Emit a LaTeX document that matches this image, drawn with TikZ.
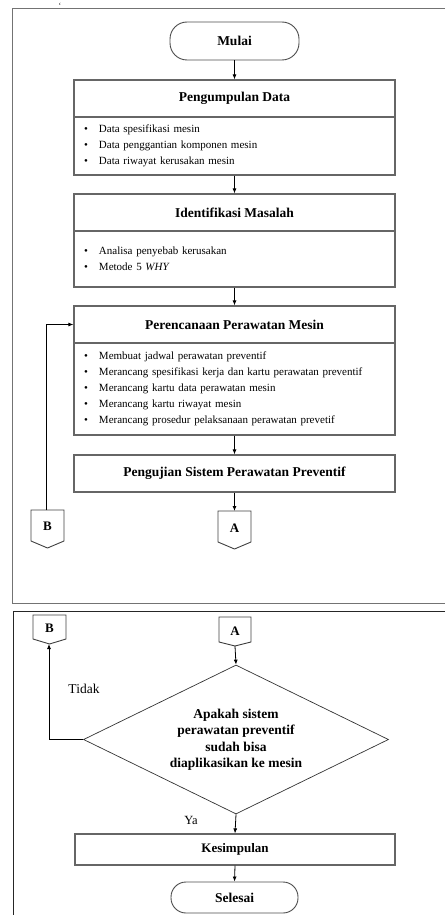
\documentclass[tikz,border=0pt]{standalone}
\usepackage{fontspec}
\setmainfont{Liberation Serif}
\usetikzlibrary{shapes.geometric,arrows.meta}
\begin{document}
\begin{tikzpicture}[x=1pt,y=-1pt,
  frame1/.style={draw=black!55, line width=1pt},
  frame2/.style={draw=black!85, line width=1pt},
  boxline/.style={draw=black!60, line width=1.2pt},
  titlebox/.style={boxline, minimum width=321pt, minimum height=37pt, inner sep=0pt, font=\bfseries\fontsize{13.5}{16}\selectfont},
  bodybox/.style={boxline, text width=301pt, inner xsep=10pt, inner ysep=0pt, align=left, font=\fontsize{11}{16}\selectfont},
  term/.style={draw=black!70, line width=0.9pt, rounded corners=17pt, inner sep=0pt, font=\bfseries\fontsize{13.5}{16}\selectfont},
  conn/.style={draw=black!75, line width=0.9pt},
  connlabel/.style={inner sep=0pt, font=\bfseries\fontsize{13}{15}\selectfont},
  arr/.style={-{Latex[length=5pt,width=4pt]}, line width=0.8pt},
  lbl/.style={inner sep=0pt, font=\fontsize{13.5}{16}\selectfont}
]
\useasboundingbox (0,0) rectangle (445,915);
% frames
\draw[frame1] (445,9) -- (12,9) -- (12,603) -- (445,603);
\draw[frame2] (445,611) -- (13,611) -- (13,915);
\node[inner sep=0pt, font=\fontsize{8}{8}\selectfont] (tick) at (60,6) {`};
% start
\node[term, minimum width=129pt, minimum height=38pt] (mulai) at (234.5,41) {Mulai};
% Pengumpulan Data
\node[titlebox] (pd) at (234.5,98.5) {Pengumpulan Data};
\node[bodybox, minimum height=58pt] (pdb) at (234.5,146) {%
\makebox[15pt][l]{\textbullet}Data spesifikasi mesin\\
\makebox[15pt][l]{\textbullet}Data penggantian komponen mesin\\
\makebox[15pt][l]{\textbullet}Data riwayat kerusakan mesin};
% Identifikasi Masalah
\node[titlebox] (im) at (234.5,212.5) {Identifikasi Masalah};
\node[bodybox, minimum height=56pt] (imb) at (234.5,259) {%
\makebox[15pt][l]{\textbullet}Analisa penyebab kerusakan\\
\makebox[15pt][l]{\textbullet}Metode 5 \textit{WHY}};
% Perencanaan
\node[titlebox] (pp) at (234.5,324.5) {Perencanaan Perawatan Mesin};
\node[bodybox, minimum height=92pt] (ppb) at (234.5,389) {%
\makebox[15pt][l]{\textbullet}Membuat jadwal perawatan preventif\\
\makebox[15pt][l]{\textbullet}Merancang spesifikasi kerja dan kartu perawatan preventif\\
\makebox[15pt][l]{\textbullet}Merancang kartu data perawatan mesin\\
\makebox[15pt][l]{\textbullet}Merancang kartu riwayat mesin\\
\makebox[15pt][l]{\textbullet}Merancang prosedur pelaksanaan perawatan prevetif};
% Pengujian
\node[titlebox] (pu) at (234.5,473.5) {Pengujian Sistem Perawatan Preventif};
% off-page connectors, page 1
\draw[conn] (218,511) -- (251,511) -- (251,542) -- (234.5,549) -- (218,542) -- cycle;
\coordinate (atop1) at (234.5,511);
\node[connlabel] (a1) at (234.5,528) {A};
\draw[conn] (31,510) -- (64,510) -- (64,541) -- (47.5,548) -- (31,541) -- cycle;
\coordinate (btop1) at (46.5,510);
\node[connlabel] (b1) at (47.5,526) {B};
% arrows page 1
\draw[arr] (mulai.south) -- (pd.north);
\draw[arr] (pdb.south) -- (im.north);
\draw[arr] (imb.south) -- (pp.north);
\draw[arr] (ppb.south) -- (pu.north);
\draw[arr] (pu.south) -- (atop1);
\draw[arr] (btop1) |- (pp.west);
% page 2 connectors
\draw[conn] (33,615) -- (66,615) -- (66,639) -- (49.5,644) -- (33,639) -- cycle;
\coordinate (btip2) at (49,644);
\node[connlabel] (b2) at (49.5,628) {B};
\draw[conn] (219,617) -- (251,617) -- (251,642) -- (235,646) -- (219,642) -- cycle;
\coordinate (atip2) at (235,646);
\node[connlabel] (a2) at (235,631) {A};
% decision
\node[diamond, draw=black!80, line width=0.7pt, minimum width=305pt, minimum height=149pt, inner sep=0pt, aspect=2.05, align=center, font=\bfseries\fontsize{13.5}{16.5}\selectfont] (dec) at (236,739.5) {Apakah sistem\\perawatan preventif\\sudah bisa\\diaplikasikan ke mesin};
\draw[arr] (atip2) -- (dec.north);
\draw[arr] (dec.west) -| (btip2);
\node[lbl] (tidak) at (84,689) {Tidak};
\node[lbl, font=\fontsize{12.5}{15}\selectfont] (ya) at (191,820) {Ya};
% conclusion
\node[boxline, minimum width=320pt, minimum height=31pt, inner sep=0pt, font=\bfseries\fontsize{13}{16}\selectfont] (kes) at (235,849.5) {Kesimpulan};
\node[term, minimum width=127pt, minimum height=31pt, rounded corners=15pt] (selesai) at (234.5,897.5) {Selesai};
\draw[arr] (dec.south) -- (kes.north);
\draw[arr] (kes.south) -- (selesai.north);
\end{tikzpicture}
\end{document}
